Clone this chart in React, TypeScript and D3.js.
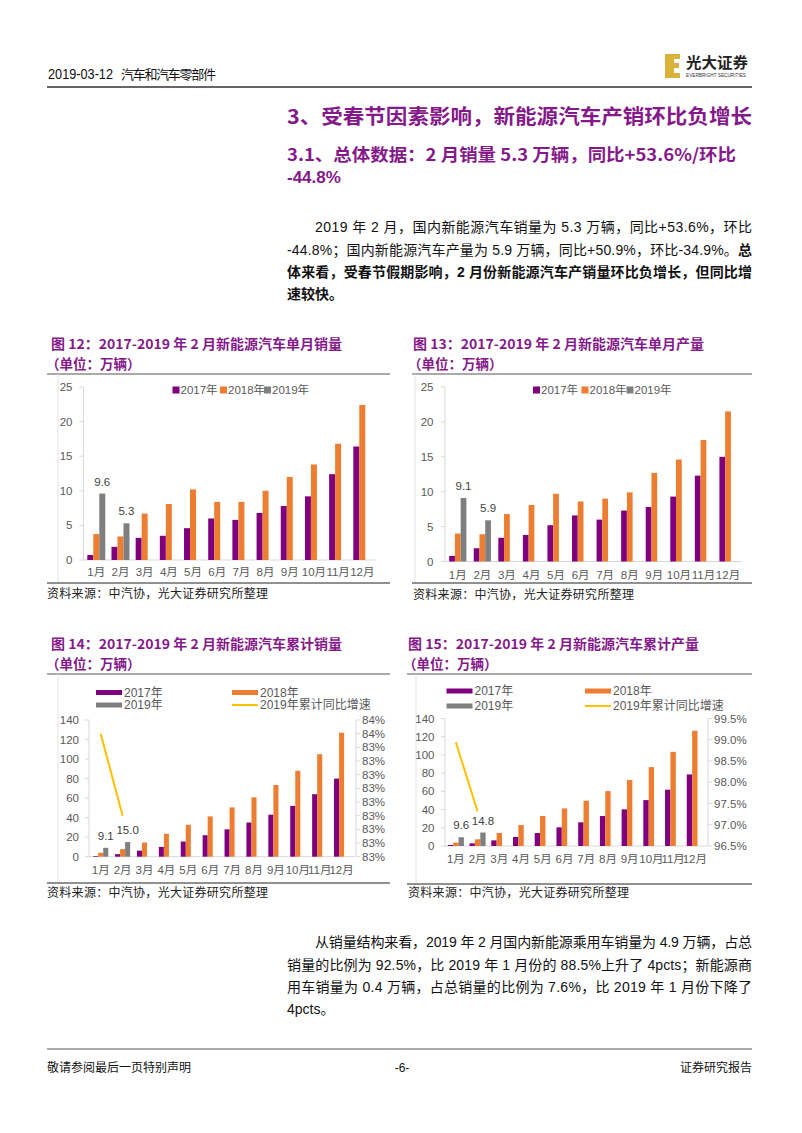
import React from 'react';
import * as d3 from 'd3';

// ---------------- data ----------------
const months = ['1月', '2月', '3月', '4月', '5月', '6月', '7月', '8月', '9月', '10月', '11月', '12月'];
const seriesNames = ['2017年', '2018年', '2019年'];
const growthName = '2019年累计同比增速';

const monthlySales2017 = [0.72, 1.9, 3.2, 3.5, 4.6, 6.0, 5.8, 6.8, 7.8, 9.2, 12.4, 16.4];
const monthlySales2018 = [3.75, 3.4, 6.7, 8.1, 10.2, 8.4, 8.4, 10.0, 12.0, 13.8, 16.8, 22.4];
const monthlySales2019 = [9.6, 5.3];

const monthlyProd2017 = [0.8, 1.9, 3.4, 3.8, 5.2, 6.6, 6.0, 7.3, 7.8, 9.3, 12.3, 15.0];
const monthlyProd2018 = [4.0, 3.9, 6.8, 8.1, 9.7, 8.6, 9.0, 9.9, 12.7, 14.6, 17.4, 21.5];
const monthlyProd2019 = [9.1, 5.9];

const cumSales2017 = [0.7, 2.6, 6.2, 10.0, 15.5, 22.0, 28.0, 35.0, 43.0, 52.0, 64.0, 80.0];
const cumSales2018 = [4.0, 7.8, 14.5, 23.5, 32.7, 41.3, 50.5, 60.8, 73.4, 88.0, 105.0, 127.0];
const cumSales2019 = [9.1, 15.0];
const cumSalesGrowth2019 = [83.5, 83.2];

const cumProd2017 = [1.1, 2.9, 6.2, 9.9, 14.3, 20.5, 26.0, 32.9, 40.2, 50.4, 61.8, 78.6];
const cumProd2018 = [3.7, 7.3, 14.3, 23.0, 32.9, 41.3, 49.7, 60.3, 72.4, 86.6, 103.4, 126.5];
const cumProd2019 = [9.6, 14.8];
const cumProdGrowth2019 = [98.94, 97.31];

const monthlyTicks = [0, 5, 10, 15, 20, 25];
const cumTicks = [0, 20, 40, 60, 80, 100, 120, 140];
const cumSalesRightTicks = [83.05, 83.1, 83.15, 83.2, 83.25, 83.3, 83.35, 83.4, 83.45, 83.5, 83.55];
const cumSalesRightLabels = ['83%', '83%', '83%', '83%', '83%', '83%', '83%', '83%', '83%', '84%', '84%'];
const cumProdRightTicks = [96.5, 97.0, 97.5, 98.0, 98.5, 99.0, 99.5];
const cumProdRightLabels = ['96.5%', '97.0%', '97.5%', '98.0%', '98.5%', '99.0%', '99.5%'];

// ---------------- styles ----------------
const PURPLE = '#7F007F';
const ORANGE = '#ED7D31';
const GRAY = '#7F7F7F';
const YELLOW = '#FFC000';
const HEAD = '#85198A';
const AXIS = '#D9D9D9';
const TICK = '#595959';
const FONT = "'Liberation Sans', Arial, 'Noto Sans CJK SC', sans-serif";
const CJK = "'Noto Sans CJK SC', 'Liberation Sans', sans-serif";
const SRC = '资料来源：中汽协，光大证券研究所整理';

type RightCfg = { x: number; ticks: number[]; labels: string[]; domain: [number, number]; growth: number[] };
type ChartCfg = {
  s17: number[]; s18: number[]; s19: number[];
  ticks: number[]; yMax: number; yTop: number; yBottom: number;
  axisX: number; xr: [number, number]; pad: number; monthY: number; labelGap: number;
  right?: RightCfg;
};

function BarChart({ c }: { c: ChartCfg }) {
  const x = d3.scaleBand<string>().domain(months).range(c.xr).paddingInner(c.pad).paddingOuter(c.pad / 2);
  const sub = d3.scaleBand<number>().domain([0, 1, 2]).range([0, x.bandwidth()]);
  const y = d3.scaleLinear().domain([0, c.yMax]).range([c.yBottom, c.yTop]);
  const series = [c.s17, c.s18, c.s19];
  const colors = [PURPLE, ORANGE, GRAY];
  const fmt = d3.format('.1f');
  const xEnd = c.xr[1] + 2;
  let line: JSX.Element | null = null;
  let rightAxis: JSX.Element | null = null;
  if (c.right) {
    const r = c.right;
    const yr = d3.scaleLinear().domain(r.domain).range([c.yBottom, c.yTop]);
    const gen = d3.line<number>()
      .x((_, i) => (x(months[i]) as number) + x.bandwidth() / 2)
      .y((v) => yr(v));
    line = <path d={gen(r.growth) || ''} fill="none" stroke={YELLOW} strokeWidth={2} />;
    rightAxis = (
      <g>
        <line x1={r.x} x2={r.x} y1={c.yTop} y2={c.yBottom} stroke={AXIS} />
        {r.ticks.map((t, i) => (
          <g key={i}>
            <line x1={r.x} x2={r.x + 4} y1={yr(t)} y2={yr(t)} stroke={AXIS} />
            <text x={r.x + 6} y={yr(t)} dominantBaseline="central" fontSize={11.5} fill={TICK} fontFamily={FONT}>{r.labels[i]}</text>
          </g>
        ))}
      </g>
    );
  }
  return (
    <g>
      <line x1={c.axisX} x2={c.axisX} y1={c.yTop} y2={c.yBottom} stroke={AXIS} />
      <line x1={c.axisX} x2={xEnd} y1={c.yBottom} y2={c.yBottom} stroke={AXIS} />
      {c.ticks.map((t) => (
        <g key={t}>
          <line x1={c.axisX - 4} x2={c.axisX} y1={y(t)} y2={y(t)} stroke={AXIS} />
          <text x={c.axisX - c.labelGap} y={y(t)} textAnchor="end" dominantBaseline="central" fontSize={11.5} fill={TICK} fontFamily={FONT}>{t}</text>
        </g>
      ))}
      {series.map((s, si) =>
        s.map((v, i) => (
          <rect key={si + '-' + i} x={(x(months[i]) as number) + (sub(si) as number)} y={y(v)} width={sub.bandwidth()} height={c.yBottom - y(v)} fill={colors[si]} />
        ))
      )}
      {c.s19.map((v, i) => (
        <text key={'l' + i} x={(x(months[i]) as number) + (sub(2) as number) + sub.bandwidth() / 2} y={y(v) - 12} textAnchor="middle" dominantBaseline="central" fontSize={11.5} fill="#404040" fontFamily={FONT}>{fmt(v)}</text>
      ))}
      {months.map((m) => (
        <text key={m} x={(x(m) as number) + x.bandwidth() / 2} y={c.monthY} textAnchor="middle" dominantBaseline="central" fontSize={11.5} fill={TICK} fontFamily={FONT}>{m}</text>
      ))}
      {rightAxis}
      {line}
    </g>
  );
}

function Frame({ title, titleX, titleW, top, l1, l2, borderX, srcLineY, srcY, srcX }: any) {
  return (
    <g>
      <text x={titleX} y={top - 25} fontSize={13.5} fontWeight="bold" fill={HEAD} fontFamily={CJK} textLength={titleW} lengthAdjust="spacingAndGlyphs">{title}</text>
      <text x={titleX - 5} y={top - 5} fontSize={13.5} fontWeight="bold" fill={HEAD} fontFamily={CJK}>（单位：万辆）</text>
      <line x1={l1} x2={l2} y1={top} y2={top} stroke="#555" strokeWidth={1} />
      <line x1={borderX} x2={borderX} y1={top} y2={srcLineY} stroke="#E3E3E3" />
      <line x1={l1} x2={l2} y1={srcLineY} y2={srcLineY} stroke="#222" strokeWidth={1} />
      <text x={srcX} y={srcY + 4} fontSize={12} fill="#222" fontFamily={CJK} textLength={221} lengthAdjust="spacing">{SRC}</text>
    </g>
  );
}

function LegendA({ xs, y }: { xs: number[]; y: number }) {
  const colors = [PURPLE, ORANGE, GRAY];
  return (
    <g>
      {seriesNames.map((n, i) => (
        <g key={n}>
          <rect x={xs[i]} y={y - 3.5} width={7} height={7} fill={colors[i]} />
          <text x={xs[i] + 8} y={y} dominantBaseline="central" fontSize={11.5} fill={TICK} fontFamily={FONT}>{n}</text>
        </g>
      ))}
    </g>
  );
}

function LegendB({ x1, x2, y1, y2 }: { x1: number; x2: number; y1: number; y2: number }) {
  const items = [
    { n: seriesNames[0], c: PURPLE, x: x1, y: y1, line: false },
    { n: seriesNames[1], c: ORANGE, x: x2, y: y1, line: false },
    { n: seriesNames[2], c: GRAY, x: x1, y: y2, line: false },
    { n: growthName, c: YELLOW, x: x2, y: y2, line: true },
  ];
  return (
    <g>
      {items.map((it) => (
        <g key={it.n}>
          {it.line ? (
            <line x1={it.x} x2={it.x + 26} y1={it.y} y2={it.y} stroke={it.c} strokeWidth={2} />
          ) : (
            <rect x={it.x} y={it.y - 2.5} width={26} height={5} fill={it.c} />
          )}
          <text x={it.x + 28} y={it.y} dominantBaseline="central" fontSize={12} fill={TICK} fontFamily={FONT}>{it.n}</text>
        </g>
      ))}
    </g>
  );
}

function Para({ lines, ys }: { lines: { parts: { t: string; b?: boolean }[]; x: number; full: boolean }[]; ys: number[] }) {
  return (
    <g>
      {lines.map((ln, i) => (
        <text key={i} x={ln.x} y={ys[i] + 5} fontSize={14} fill="#111" fontFamily={FONT}
          {...(ln.full ? { textLength: 752 - ln.x, lengthAdjust: 'spacing' } : {})}>
          {ln.parts.map((p, j) => (
            <tspan key={j} fontWeight={p.b ? 'bold' : 'normal'}>{p.t}</tspan>
          ))}
        </text>
      ))}
    </g>
  );
}

export default function App() {
  const c12: ChartCfg = {
    s17: monthlySales2017, s18: monthlySales2018, s19: monthlySales2019,
    ticks: monthlyTicks, yMax: 25, yTop: 387, yBottom: 560,
    axisX: 83.5, xr: [84.2, 374.4], pad: 0.256, monthY: 572, labelGap: 11,
  };
  const c13: ChartCfg = {
    s17: monthlyProd2017, s18: monthlyProd2018, s19: monthlyProd2019,
    ticks: monthlyTicks, yMax: 25, yTop: 387, yBottom: 561.5,
    axisX: 445, xr: [445.5, 740.3], pad: 0.3, monthY: 575, labelGap: 11.5,
  };
  const c14: ChartCfg = {
    s17: cumSales2017, s18: cumSales2018, s19: cumSales2019,
    ticks: cumTicks, yMax: 140, yTop: 720, yBottom: 856.7,
    axisX: 89, xr: [89.75, 352.55], pad: 0.31, monthY: 870, labelGap: 10,
    right: { x: 356, ticks: cumSalesRightTicks, labels: cumSalesRightLabels, domain: [83.05, 83.55], growth: cumSalesGrowth2019 },
  };
  const c15: ChartCfg = {
    s17: cumProd2017, s18: cumProd2018, s19: cumProd2019,
    ticks: cumTicks, yMax: 140, yTop: 718.5, yBottom: 846,
    axisX: 445, xr: [445, 705.7], pad: 0.26, monthY: 859, labelGap: 10.5,
    right: { x: 708, ticks: cumProdRightTicks, labels: cumProdRightLabels, domain: [96.5, 99.5], growth: cumProdGrowth2019 },
  };

  const para1 = [
    { x: 315, full: true, parts: [{ t: '2019 年 2 月，国内新能源汽车销量为 5.3 万辆，同比+53.6%，环比' }] },
    { x: 287, full: true, parts: [{ t: '-44.8%；国内新能源汽车产量为 5.9 万辆，同比+50.9%，环比-34.9%。' }, { t: '总', b: true }] },
    { x: 287, full: true, parts: [{ t: '体来看，受春节假期影响，2 月份新能源汽车产销量环比负增长，但同比增', b: true }] },
    { x: 287, full: false, parts: [{ t: '速较快。', b: true }] },
  ];
  const para2 = [
    { x: 315, full: true, parts: [{ t: '从销量结构来看，2019 年 2 月国内新能源乘用车销量为 4.9 万辆，占总' }] },
    { x: 287, full: true, parts: [{ t: '销量的比例为 92.5%，比 2019 年 1 月份的 88.5%上升了 4pcts；新能源商' }] },
    { x: 287, full: true, parts: [{ t: '用车销量为 0.4 万辆，占总销量的比例为 7.6%，比 2019 年 1 月份下降了' }] },
    { x: 287, full: false, parts: [{ t: '4pcts。' }] },
  ];

  return (
    <svg width={802} height={1133} viewBox="0 0 802 1133" style={{ position: 'absolute', left: 0, top: 0, background: '#fff' }}>
      <rect x={0} y={0} width={802} height={1133} fill="#fff" />
      {/* header */}
      <text x={48} y={79} fontSize={14} fill="#111" fontFamily={FONT} textLength={65} lengthAdjust="spacingAndGlyphs">2019-03-12</text>
      <text x={121} y={79} fontSize={13} fill="#111" fontFamily={CJK} textLength={95} lengthAdjust="spacing">汽车和汽车零部件</text>
      <line x1={47} x2={752} y1={87} y2={87} stroke="#333" strokeWidth={1.5} />
      <g>
        <rect x={665} y={54} width={9} height={24} fill="#D9B23A" />
        <rect x={674} y={54} width={6} height={5} fill="#D9B23A" />
        <rect x={674} y={63} width={5} height={5} fill="#D9B23A" />
        <rect x={674} y={73} width={6} height={5} fill="#D9B23A" />
        <text x={686} y={68} fontSize={14.5} fontWeight="bold" fill="#222" fontFamily={CJK} textLength={62} lengthAdjust="spacingAndGlyphs">光大证券</text>
        <text x={686} y={77} fontSize={4.5} fill="#333" fontFamily={FONT} textLength={60} lengthAdjust="spacingAndGlyphs">EVERBRIGHT SECURITIES</text>
      </g>

      {/* headings */}
      <text x={287} y={124} fontSize={20} fontWeight="bold" fill={HEAD} fontFamily={CJK} textLength={465} lengthAdjust="spacingAndGlyphs">3、受春节因素影响，新能源汽车产销环比负增长</text>
      <text x={287} y={161} fontSize={17} fontWeight="bold" fill={HEAD} fontFamily={CJK} textLength={449} lengthAdjust="spacingAndGlyphs">3.1、总体数据：2 月销量 5.3 万辆，同比+53.6%/环比</text>
      <text x={287} y={183} fontSize={17} fontWeight="bold" fill={HEAD} fontFamily={FONT}>-44.8%</text>

      <Para lines={para1} ys={[227, 250, 272, 294]} />

      {/* chart 12 */}
      <Frame title="图 12：2017-2019 年 2 月新能源汽车单月销量" titleX={51} titleW={291} top={374} l1={47} l2={390} borderX={58} srcLineY={583} srcY={594} srcX={47} />
      <LegendA xs={[172.5, 220, 264]} y={390} />
      <BarChart c={c12} />

      {/* chart 13 */}
      <Frame title="图 13：2017-2019 年 2 月新能源汽车单月产量" titleX={413} titleW={291} top={374} l1={412} l2={752} borderX={415} srcLineY={583} srcY={595} srcX={413} />
      <LegendA xs={[533, 581.5, 626.5]} y={390} />
      <BarChart c={c13} />

      {/* chart 14 */}
      <Frame title="图 14：2017-2019 年 2 月新能源汽车累计销量" titleX={51} titleW={291} top={674} l1={47} l2={390} borderX={58} srcLineY={883} srcY={893} srcX={47} />
      <LegendB x1={96} x2={232} y1={692.5} y2={705} />
      <BarChart c={c14} />

      {/* chart 15 */}
      <Frame title="图 15：2017-2019 年 2 月新能源汽车累计产量" titleX={408} titleW={291} top={674} l1={407} l2={752} borderX={416} srcLineY={884} srcY={893} srcX={408} />
      <LegendB x1={446.5} x2={585} y1={691} y2={706} />
      <BarChart c={c15} />

      <Para lines={para2} ys={[942, 965, 987, 1009]} />

      {/* footer */}
      <line x1={47} x2={752} y1={1049} y2={1049} stroke="#555" strokeWidth={1} />
      <text x={47} y={1072} fontSize={12} fill="#111" fontFamily={CJK}>敬请参阅最后一页特别声明</text>
      <text x={402} y={1072} fontSize={12} fill="#111" fontFamily={FONT} textAnchor="middle">-6-</text>
      <text x={752} y={1072} fontSize={12} fill="#111" fontFamily={CJK} textAnchor="end">证券研究报告</text>
    </svg>
  );
}
